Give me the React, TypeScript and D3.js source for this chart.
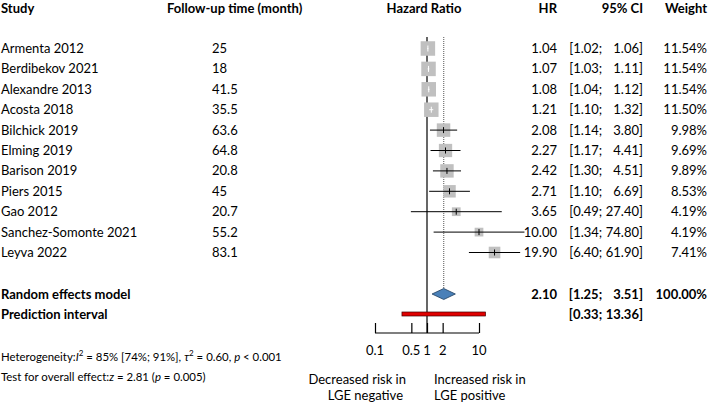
import React, { useEffect, useRef } from 'react';
import * as d3 from 'd3';

const studies = [
    'Armenta 2012', 'Berdibekov 2021', 'Alexandre 2013', 'Acosta 2018', 'Bilchick 2019',
    'Elming 2019', 'Barison 2019', 'Piers 2015', 'Gao 2012', 'Sanchez-Somonte 2021', 'Leyva 2022'
];
const followUp = ['25', '18', '41.5', '35.5', '63.6', '64.8', '20.8', '45', '20.7', '55.2', '83.1'];
const hr = [1.04, 1.07, 1.08, 1.21, 2.08, 2.27, 2.42, 2.71, 3.65, 10.0, 19.9];
const lower = [1.02, 1.03, 1.04, 1.10, 1.14, 1.17, 1.30, 1.10, 0.49, 1.34, 6.40];
const upper = [1.06, 1.11, 1.12, 1.32, 3.80, 4.41, 4.51, 6.69, 27.40, 74.80, 61.90];
const weight = [11.54, 11.54, 11.54, 11.50, 9.98, 9.69, 9.89, 8.53, 4.19, 4.19, 7.41];

const pooled = { hr: 2.10, lower: 1.25, upper: 3.51, weight: 100 };
const prediction = { lower: 0.33, upper: 13.36 };
const axisTicks = [0.1, 0.5, 1, 2, 10];

const FONT = 'Lato, "Open Sans", sans-serif';

function ForestPlot() {
    const svgRef = useRef(null);
    const width = 708;
    const height = 403;

    useEffect(() => {
        const svg = d3.select(svgRef.current);
        svg.selectAll('*').remove();
        svg.style('font-family', FONT).style('font-size', '13px');

        const x = d3.scaleLog().domain([0.1, 10]).range([375, 479]);
        const y = d3.scaleLinear().domain([0, studies.length - 1]).range([48.5, 252.5]);
        const yPooled = 294;
        const yPred = 314;
        const yAxis = 333;

        // box area proportional to weight
        const side = d3.scaleSqrt().domain([0, d3.max(weight)]).range([0, 14.5]);

        const cols = { study: 1, follow: 212, hr: 557, ci: 643, weight: 707 };

        const txt = (g, xx, yy, s, anchor = 'start', bold = false) =>
            g.append('text')
                .attr('x', xx).attr('y', yy).attr('dy', '0.35em')
                .attr('text-anchor', anchor)
                .attr('font-weight', bold ? 'bold' : null)
                .attr('fill', '#000')
                .text(s);

        // "[lo; hi]" with the upper bound right-aligned in a two-digit slot
        const ciText = (g, yy, lo, hi, bold = false) => {
            txt(g, cols.ci, yy, `${hi.toFixed(2)}]`, 'end', bold);
            const probe = txt(g, 0, -50, '00.00]', 'start', bold);
            const slot = probe.node().getComputedTextLength();
            probe.remove();
            txt(g, cols.ci - slot - 3.5, yy, `[${lo.toFixed(2)};`, 'end', bold);
        };

        // headers
        const head = svg.append('g');
        txt(head, cols.study, 8.5, 'Study', 'start', true);
        txt(head, 167, 8.5, 'Follow-up time (month)', 'start', true);
        txt(head, 424, 8.5, 'Hazard Ratio', 'middle', true);
        txt(head, cols.hr, 8.5, 'HR', 'end', true);
        txt(head, cols.ci, 8.5, '95% CI', 'end', true);
        txt(head, cols.weight, 8.5, 'Weight', 'end', true);

        // reference line at HR = 1 and dotted line at pooled estimate
        svg.append('line')
            .attr('x1', x(1)).attr('x2', x(1))
            .attr('y1', 37).attr('y2', yAxis)
            .attr('stroke', '#000').attr('stroke-width', 1.2);
        svg.append('line')
            .attr('x1', x(pooled.hr)).attr('x2', x(pooled.hr))
            .attr('y1', 37).attr('y2', yPooled - 5)
            .attr('stroke', '#555').attr('stroke-width', 1)
            .attr('stroke-dasharray', '1,1');

        // study rows
        const rows = svg.append('g');
        studies.forEach((name, i) => {
            const yy = y(i);
            const s = side(weight[i]);
            const inside = x(lower[i]) > x(hr[i]) - s / 2 && x(upper[i]) < x(hr[i]) + s / 2;
            const lineColor = inside ? '#fff' : '#000';

            rows.append('rect')
                .attr('x', x(hr[i]) - s / 2).attr('y', yy - s / 2)
                .attr('width', s).attr('height', s)
                .attr('fill', '#c0c0c0');
            rows.append('line')
                .attr('x1', x(lower[i])).attr('x2', x(upper[i]))
                .attr('y1', yy).attr('y2', yy)
                .attr('stroke', lineColor).attr('stroke-width', 1);
            rows.append('line')
                .attr('x1', x(hr[i])).attr('x2', x(hr[i]))
                .attr('y1', yy - 3).attr('y2', yy + 3)
                .attr('stroke', lineColor).attr('stroke-width', 1);

            txt(rows, cols.study, yy, name);
            txt(rows, cols.follow, yy, followUp[i]);
            txt(rows, cols.hr, yy, hr[i].toFixed(2), 'end');
            ciText(rows, yy, lower[i], upper[i]);
            txt(rows, cols.weight, yy, `${weight[i].toFixed(2)}%`, 'end');
        });

        // pooled diamond
        const xl = x(pooled.lower), xc = x(pooled.hr), xr = x(pooled.upper);
        svg.append('path')
            .attr('d', `M${xl},${yPooled}L${xc},${yPooled - 5.5}L${xr},${yPooled}L${xc},${yPooled + 5.5}Z`)
            .attr('fill', '#4a80b8').attr('stroke', '#1f3f60').attr('stroke-width', 0.8);
        txt(svg, cols.study, yPooled, 'Random effects model', 'start', true);
        txt(svg, cols.hr, yPooled, pooled.hr.toFixed(2), 'end', true);
        ciText(svg, yPooled, pooled.lower, pooled.upper, true);
        txt(svg, cols.weight, yPooled, `${pooled.weight.toFixed(2)}%`, 'end', true);

        // prediction interval bar
        svg.append('rect')
            .attr('x', x(prediction.lower)).attr('y', yPred - 2)
            .attr('width', x(prediction.upper) - x(prediction.lower)).attr('height', 4)
            .attr('fill', '#e00000').attr('stroke', '#400').attr('stroke-width', 0.7);
        txt(svg, cols.study, yPred, 'Prediction interval', 'start', true);
        ciText(svg, yPred, prediction.lower, prediction.upper, true);

        // x axis with ticks pointing up
        const axis = d3.axisTop(x).tickValues(axisTicks).tickSize(10).tickFormat(() => '');
        const ax = svg.append('g').attr('transform', `translate(0,${yAxis})`).call(axis);
        ax.select('.domain').attr('d', `M${x(0.1)},0H${x(10)}`).attr('stroke', '#000').attr('stroke-width', 1.2);
        ax.selectAll('.tick line').attr('stroke', '#000').attr('stroke-width', 1.2);
        axisTicks.forEach(t => txt(svg, x(t), 350, String(t), 'middle'));

        // direction labels
        txt(svg, 406, 379, 'Decreased risk in', 'end');
        txt(svg, 403, 395, 'LGE negative', 'end');
        txt(svg, 434, 379, 'Increased risk in', 'start');
        txt(svg, 434, 395, 'LGE positive', 'start');

        // heterogeneity statistics
        const het = svg.append('text')
            .attr('x', 1).attr('y', 357).attr('dy', '0.35em')
            .style('font-size', '11.4px');
        het.append('tspan').text('Heterogeneity:');
        het.append('tspan').attr('font-style', 'italic').text('I');
        het.append('tspan').attr('baseline-shift', 'super').style('font-size', '8px').text('2');
        het.append('tspan').text(' = 85% [74%; 91%], ');
        het.append('tspan').attr('font-style', 'italic').text('τ');
        het.append('tspan').attr('baseline-shift', 'super').style('font-size', '8px').text('2');
        het.append('tspan').text(' = 0.60, ');
        het.append('tspan').attr('font-style', 'italic').text('p');
        het.append('tspan').text(' < 0.001');

        const test = svg.append('text')
            .attr('x', 1).attr('y', 377).attr('dy', '0.35em')
            .style('font-size', '11.4px');
        test.append('tspan').text('Test for overall effect:');
        test.append('tspan').attr('font-style', 'italic').text('z');
        test.append('tspan').text(' = 2.81 (');
        test.append('tspan').attr('font-style', 'italic').text('p');
        test.append('tspan').text(' = 0.005)');
    }, []);

    return (
        <svg ref={svgRef} width={width} height={height}
            style={{ position: 'absolute', left: 0, top: 0, background: '#fff' }} />
    );
}

export default function App() {
    return <ForestPlot />;
}
